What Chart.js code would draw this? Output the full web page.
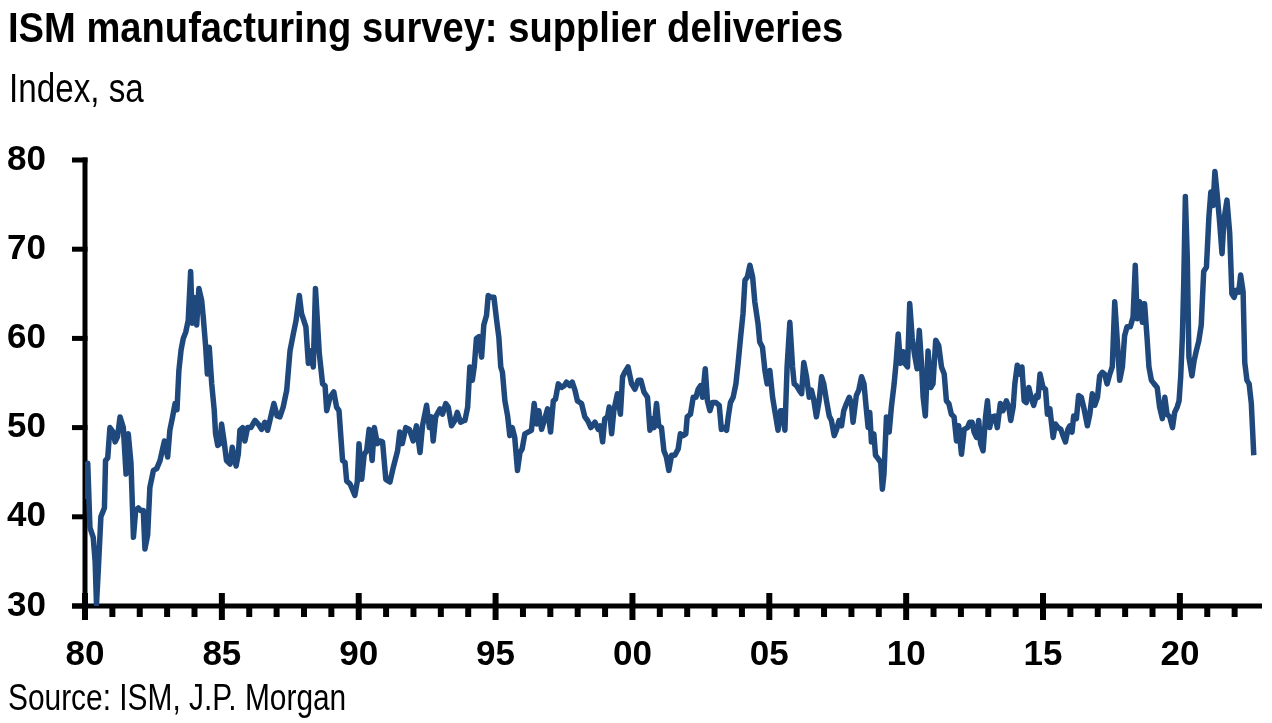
<!DOCTYPE html>
<html>
<head>
<meta charset="utf-8">
<title>ISM manufacturing survey: supplier deliveries</title>
<script src="https://cdn.jsdelivr.net/npm/chart.js@4.4.0/dist/chart.umd.min.js"></script>
<style>
  html, body { margin: 0; padding: 0; background: #fff; }
  #wrap { position: relative; width: 1272px; height: 723px; overflow: hidden; }
  #wrap canvas { position: absolute; left: 0; top: 0; }
  .txt {
    position: absolute; margin: 0; white-space: nowrap; color: #000; line-height: 1;
    font-family: 'Liberation Sans Narrow', 'Arial Narrow', 'Liberation Sans', sans-serif;
    transform-origin: 0 0;
  }
  /* no narrow face installed, so squeeze the regular one */
  #title { left: 8px; top: 6px; font-size: 43px; font-weight: bold; transform: scaleX(0.887); }
  #subtitle { left: 9px; top: 68px; font-size: 41px; transform: scaleX(0.81); }
  #source { left: 8px; top: 680px; font-size: 36px; transform: scaleX(0.83); }
</style>
</head>
<body>
<div id="wrap">
  <canvas id="ismChart" width="1272" height="723"></canvas>
  <div class="txt" id="title">ISM manufacturing survey: supplier deliveries</div>
  <div class="txt" id="subtitle">Index, sa</div>
  <div class="txt" id="source">Source: ISM, J.P. Morgan</div>
</div>
<script>
// x: decimal year
const dates = [
  1980.00, 1980.10, 1980.18, 1980.30, 1980.37, 1980.42, 1980.49, 1980.58, 1980.71, 1980.75,
  1980.83, 1980.91, 1981.03, 1981.10, 1981.19, 1981.28, 1981.40, 1981.50, 1981.58, 1981.68,
  1981.77, 1981.85, 1981.95, 1982.03, 1982.13, 1982.19, 1982.29, 1982.37, 1982.50, 1982.62,
  1982.74, 1982.90, 1983.02, 1983.10, 1983.20, 1983.29, 1983.36, 1983.43, 1983.51, 1983.59,
  1983.68, 1983.77, 1983.86, 1983.92, 1983.99, 1984.08, 1984.16, 1984.26, 1984.32, 1984.41,
  1984.47, 1984.54, 1984.63, 1984.72, 1984.77, 1984.85, 1984.93, 1984.99, 1985.08, 1985.17,
  1985.30, 1985.38, 1985.45, 1985.52, 1985.60, 1985.66, 1985.76, 1985.84, 1985.94, 1986.06,
  1986.21, 1986.33, 1986.45, 1986.57, 1986.67,
  1986.90, 1987.02, 1987.12, 1987.24, 1987.37, 1987.49, 1987.61, 1987.71, 1987.83, 1987.91,
  1988.07, 1988.16, 1988.24, 1988.34, 1988.42, 1988.56, 1988.68, 1988.77, 1988.83, 1988.95,
  1989.09, 1989.19, 1989.28, 1989.35, 1989.41, 1989.50, 1989.56, 1989.68, 1989.86, 1989.95,
  1990.01, 1990.11, 1990.20, 1990.29, 1990.38, 1990.49, 1990.57, 1990.68, 1990.77, 1990.87,
  1990.99, 1991.14, 1991.26, 1991.42, 1991.50, 1991.59, 1991.72, 1991.85, 1991.99, 1992.11,
  1992.24, 1992.33, 1992.48, 1992.58, 1992.66, 1992.72, 1992.81, 1992.97, 1993.06, 1993.18,
  1993.27, 1993.39, 1993.51, 1993.60, 1993.72, 1993.84,
  1993.88, 1993.98, 1994.06, 1994.15, 1994.22, 1994.30, 1994.39, 1994.49, 1994.57, 1994.67,
  1994.73, 1994.83, 1994.94, 1995.04, 1995.12, 1995.19, 1995.25, 1995.34, 1995.44, 1995.52,
  1995.61, 1995.70, 1995.80, 1995.89, 1995.97, 1996.07, 1996.19, 1996.31, 1996.41, 1996.50,
  1996.58, 1996.68, 1996.78, 1996.90, 1997.01, 1997.11, 1997.19, 1997.29, 1997.41, 1997.51,
  1997.59, 1997.71, 1997.80, 1997.90, 1997.99, 1998.14, 1998.26, 1998.36, 1998.48, 1998.63,
  1998.75, 1998.83, 1998.91, 1998.99, 1999.09, 1999.15, 1999.24, 1999.32, 1999.45, 1999.56,
  1999.64, 1999.72, 1999.84, 1999.97, 2000.09, 2000.21, 2000.31, 2000.42, 2000.55, 2000.64,
  2000.72, 2000.79, 2000.88, 2000.96,
  2001.06, 2001.15, 2001.24, 2001.33, 2001.43, 2001.55, 2001.67, 2001.75, 2001.85, 2001.95,
  2002.00, 2002.12, 2002.22, 2002.32, 2002.40, 2002.49, 2002.56, 2002.66, 2002.74, 2002.83,
  2002.92, 2003.05, 2003.17, 2003.25, 2003.35, 2003.44, 2003.50, 2003.58, 2003.68, 2003.78,
  2003.86, 2003.95, 2004.04, 2004.11, 2004.20, 2004.29, 2004.39, 2004.47, 2004.59, 2004.65,
  2004.75, 2004.84, 2004.92, 2005.02, 2005.12, 2005.20, 2005.32, 2005.41, 2005.48, 2005.57,
  2005.65, 2005.75, 2005.85, 2005.91, 2005.99, 2006.09, 2006.18, 2006.26, 2006.36, 2006.46,
  2006.54, 2006.62, 2006.72, 2006.82, 2006.91, 2006.99, 2007.09, 2007.19, 2007.27, 2007.37,
  2007.45, 2007.55, 2007.64, 2007.72, 2007.82, 2007.92, 2008.00, 2008.06,
  2008.18, 2008.27, 2008.37, 2008.46, 2008.55, 2008.61, 2008.67, 2008.73, 2008.82, 2008.88,
  2008.98, 2009.07, 2009.13, 2009.19, 2009.28, 2009.38, 2009.46, 2009.56, 2009.63, 2009.71,
  2009.79, 2009.89, 2009.95, 2010.05, 2010.13, 2010.22, 2010.31, 2010.40, 2010.48, 2010.56,
  2010.62, 2010.70, 2010.80, 2010.90, 2010.98, 2011.08, 2011.19, 2011.29, 2011.39, 2011.47,
  2011.56, 2011.65, 2011.75, 2011.84, 2011.92, 2012.02, 2012.12, 2012.24, 2012.32, 2012.41,
  2012.48, 2012.57, 2012.65, 2012.72, 2012.81, 2012.90, 2012.97, 2013.05, 2013.14, 2013.24,
  2013.33, 2013.44, 2013.54, 2013.66, 2013.75, 2013.82, 2013.91, 2013.97, 2014.06, 2014.15,
  2014.23, 2014.31, 2014.39, 2014.48, 2014.58, 2014.66, 2014.76, 2014.82, 2014.89, 2015.00,
  2015.09, 2015.16,
  2015.25, 2015.37, 2015.45, 2015.55, 2015.65, 2015.73, 2015.82, 2015.91, 2015.98, 2016.06,
  2016.12, 2016.22, 2016.30, 2016.40, 2016.50, 2016.62, 2016.71, 2016.80, 2016.89, 2016.99,
  2017.07, 2017.17, 2017.25, 2017.34, 2017.44, 2017.53, 2017.62, 2017.72, 2017.80, 2017.90,
  2017.98, 2018.07, 2018.19, 2018.29, 2018.37, 2018.44, 2018.53, 2018.63, 2018.71, 2018.80,
  2018.87, 2018.96, 2019.06, 2019.17, 2019.26, 2019.36, 2019.45, 2019.53, 2019.63, 2019.73,
  2019.81, 2019.90, 2019.97, 2020.03, 2020.09, 2020.14, 2020.20, 2020.27, 2020.33, 2020.44,
  2020.52, 2020.60, 2020.69, 2020.78, 2020.87, 2020.97, 2021.06, 2021.13, 2021.21, 2021.28,
  2021.37, 2021.45, 2021.54, 2021.61, 2021.72, 2021.82, 2021.90, 2021.98, 2022.06, 2022.15,
  2022.22, 2022.31, 2022.37, 2022.45, 2022.53, 2022.61, 2022.70
];

// supplier deliveries index, same order as dates
const deliveries = [
  42.0, 46.0, 38.8, 37.7, 35.0, 30.2, 34.3, 40.0, 41.0, 46.3,
  46.6, 50.0, 49.5, 48.4, 49.0, 51.2, 50.0, 44.8, 49.3, 46.0,
  37.7, 40.7, 41.0, 40.7, 40.7, 36.4, 38.0, 43.3, 45.2, 45.4,
  46.3, 48.5, 46.7, 49.7, 51.2, 52.7, 52.0, 56.4, 58.7, 60.0,
  60.7, 62.0, 67.5, 61.7, 64.6, 61.5, 65.6, 64.3, 62.4, 59.0,
  56.0, 59.0, 54.9, 52.0, 49.3, 48.0, 48.2, 50.4, 48.5, 46.3,
  45.9, 47.8, 46.7, 45.7, 47.0, 49.7, 50.0, 48.5, 50.0, 50.0,
  50.8, 50.4, 49.8, 50.6, 49.7,
  52.7, 51.3, 51.2, 52.3, 54.2, 58.6, 60.5, 62.0, 64.8, 62.8,
  61.3, 57.2, 58.6, 56.8, 65.6, 58.3, 54.9, 54.7, 51.9, 53.4,
  54.0, 52.3, 51.9, 48.9, 46.3, 46.1, 44.0, 43.7, 42.4, 44.0,
  48.2, 44.2, 47.0, 47.4, 49.8, 46.3, 50.0, 48.2, 48.5, 48.4,
  44.2, 43.9, 45.5, 47.4, 49.5, 48.2, 50.0, 49.8, 48.5, 50.2,
  47.2, 50.2, 52.5, 50.0, 51.2, 48.5, 51.2, 52.1, 51.5, 52.7,
  52.3, 50.2, 50.8, 51.7, 50.6, 50.8,
  50.8, 52.3, 56.8, 55.3, 56.8, 60.0, 60.2, 57.9, 61.5, 62.6,
  64.8, 64.6, 64.6, 62.0, 60.1, 56.8, 56.2, 53.0, 51.3, 49.1,
  50.0, 48.9, 45.2, 47.2, 47.6, 49.3, 49.5, 49.7, 52.7, 50.4,
  51.9, 49.8, 50.8, 52.1, 49.5, 53.0, 53.2, 54.9, 54.5, 54.7,
  55.1, 54.7, 55.1, 54.2, 53.0, 52.7, 51.2, 50.8, 50.0, 50.6,
  49.8, 50.2, 48.4, 51.0, 51.2, 52.3, 49.3, 51.9, 53.8, 51.5,
  55.7, 56.2, 56.8, 54.9, 54.3, 55.3, 55.3, 54.0, 53.4, 49.7,
  51.0, 50.0, 52.7, 50.2,
  50.0, 47.4, 46.7, 45.2, 46.9, 46.9, 47.6, 49.3, 49.1, 49.3,
  51.2, 51.5, 53.4, 53.4, 54.3, 54.7, 53.4, 56.6, 53.0, 51.9,
  52.8, 52.8, 52.5, 49.8, 50.0, 49.7, 51.2, 52.8, 53.4, 54.9,
  57.2, 60.1, 62.8, 66.5, 66.9, 68.2, 66.9, 64.1, 61.6, 59.6,
  59.0, 56.4, 54.9, 56.4, 53.4, 51.9, 49.7, 51.9, 51.9, 49.7,
  56.8, 61.8, 56.8, 54.9, 54.7, 54.2, 53.8, 57.3, 55.7, 53.4,
  54.2, 53.2, 51.2, 53.0, 55.7, 54.9, 53.0, 51.3, 50.8, 49.1,
  49.7, 50.8, 50.2, 51.9, 52.7, 53.4, 52.7, 50.6,
  53.6, 54.2, 55.7, 54.9, 51.9, 50.0, 51.7, 48.4, 49.3, 46.9,
  46.5, 46.1, 43.1, 44.8, 51.2, 49.5, 52.3, 54.9, 57.2, 60.5,
  57.2, 58.5, 57.2, 56.8, 63.9, 60.1, 58.1, 56.6, 60.9, 57.2,
  53.4, 51.3, 58.6, 54.5, 54.9, 59.8, 59.2, 56.8, 56.0, 53.0,
  52.7, 51.5, 51.2, 48.5, 50.2, 47.0, 49.8, 50.0, 50.6, 50.6,
  49.5, 48.9, 50.8, 48.2, 47.4, 51.2, 53.0, 50.0, 51.2, 51.3,
  50.0, 52.7, 51.9, 53.0, 52.3, 50.8, 52.3, 54.9, 57.0, 56.0,
  56.8, 53.0, 52.8, 54.5, 53.2, 52.5, 53.6, 53.4, 56.0, 54.5,
  54.3, 51.5,
  52.1, 48.9, 50.4, 50.0, 49.8, 49.1, 48.4, 49.8, 50.2, 49.5,
  51.3, 51.0, 53.6, 53.4, 52.1, 50.2, 51.5, 53.8, 52.5, 53.4,
  55.8, 56.2, 56.0, 54.9, 56.0, 56.8, 64.1, 59.4, 55.3, 56.8,
  60.3, 61.3, 61.3, 62.4, 68.2, 62.2, 64.1, 61.8, 63.9, 60.1,
  56.8, 55.3, 54.9, 54.5, 52.3, 51.0, 53.4, 51.5, 51.2, 50.0,
  51.7, 52.3, 53.0, 55.7, 60.1, 66.1, 75.9, 69.1, 57.9, 55.8,
  57.5, 58.6, 59.7, 61.5, 67.5, 68.0, 73.6, 76.4, 74.9, 78.7,
  75.9, 73.1, 69.5, 73.3, 75.5, 71.8, 65.0, 64.6, 65.4, 65.2,
  67.1, 65.2, 57.3, 55.3, 54.9, 52.7, 46.9
];

const xTickYears = [1980, 1985, 1990, 1995, 2000, 2005, 2010, 2015, 2020];
const xTickLabels = ['80', '85', '90', '95', '00', '05', '10', '15', '20'];
const yTickValues = [30, 40, 50, 60, 70, 80];

const xMin = 1980, xMax = 2023;
const yMin = 30, yMax = 80;

const fontFamily = "'Liberation Sans Narrow', 'Arial Narrow', 'Liberation Sans', sans-serif";
const lineColor = '#1F497D';

// axis lines, ticks (major + yearly minor) drawn from the scales
const axisPlugin = {
    id: 'axisPlugin',
    beforeDatasetsDraw(chart) {
        const { ctx, scales: { x, y } } = chart;
        const axisY = y.getPixelForValue(yMin);
        const axisX = x.getPixelForValue(xMin);

        function seg(x1, y1, x2, y2, w) {
            ctx.lineWidth = w;
            ctx.beginPath();
            ctx.moveTo(x1, y1);
            ctx.lineTo(x2, y2);
            ctx.stroke();
        }

        ctx.save();
        ctx.strokeStyle = '#000';
        ctx.lineCap = 'butt';

        // y axis
        seg(axisX, y.getPixelForValue(yMax) - 2.5, axisX, axisY, 5);
        yTickValues.forEach(v => {
            const py = y.getPixelForValue(v);
            seg(axisX - 13, py, axisX + 2.5, py, 5);
        });

        // x axis
        seg(axisX - 13, axisY, x.getPixelForValue(xMax), axisY, 5);
        for (let yr = xMin; yr < xMax; yr++) {
            const px = x.getPixelForValue(yr);
            if (xTickYears.includes(yr)) {
                seg(px, axisY - 13, px, axisY + 14, 6);
            } else {
                seg(px, axisY, px, axisY + 11, 6);
            }
        }
        ctx.restore();
    }
};

const points = dates.map((d, i) => ({ x: d, y: deliveries[i] }));

new Chart(document.getElementById('ismChart'), {
    type: 'line',
    data: {
        datasets: [{
            label: 'Supplier deliveries',
            data: points,
            borderColor: lineColor,
            borderWidth: 5.5,
            pointRadius: 0,
            tension: 0,
            fill: false,
            borderJoinStyle: 'round'
        }]
    },
    options: {
        responsive: false,
        animation: false,
        devicePixelRatio: 1,
        layout: { padding: { top: 160, right: 10, bottom: 0, left: 0 } },
        plugins: {
            legend: { display: false },
            tooltip: { enabled: false }
        },
        scales: {
            x: {
                type: 'linear',
                min: xMin,
                max: xMax,
                grid: { display: false, drawTicks: false },
                border: { display: false },
                afterBuildTicks: scale => {
                    scale.ticks = xTickYears.map(v => ({ value: v }));
                },
                afterFit: scale => { scale.height = 117; },
                ticks: {
                    autoSkip: false,
                    maxRotation: 0,
                    padding: 28,
                    color: '#000',
                    font: { family: fontFamily, size: 35, weight: 'bold' },
                    callback: value => xTickLabels[xTickYears.indexOf(value)]
                }
            },
            y: {
                min: yMin,
                max: yMax,
                grid: { display: false, drawTicks: false },
                border: { display: false },
                afterBuildTicks: scale => {
                    scale.ticks = yTickValues.map(v => ({ value: v }));
                },
                afterFit: scale => { scale.width = 85; },
                ticks: {
                    padding: 39,
                    color: '#000',
                    font: { family: fontFamily, size: 35, weight: 'bold' }
                }
            }
        }
    },
    plugins: [axisPlugin]
});
</script>
</body>
</html>
